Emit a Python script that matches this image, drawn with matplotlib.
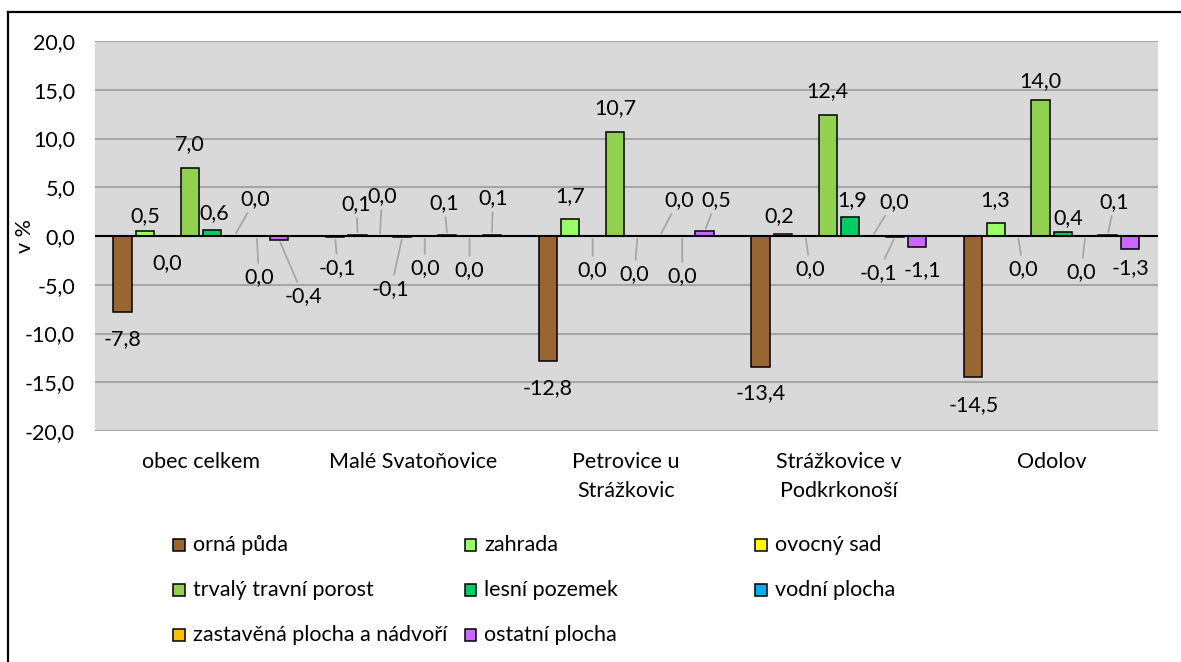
import numpy as np
import matplotlib
matplotlib.use('Agg')
import matplotlib.pyplot as plt
from matplotlib.ticker import FuncFormatter
from matplotlib.patches import Rectangle
from matplotlib.lines import Line2D

plt.rcParams['font.family'] = ['Lato', 'DejaVu Sans']

categories = ['obec celkem', 'Malé Svatoňovice', 'Petrovice u\nStrážkovic',
              'Strážkovice v\nPodkrkonoší', 'Odolov']
series = ['orná půda', 'zahrada', 'ovocný sad', 'trvalý travní porost',
          'lesní pozemek', 'vodní plocha', 'zastavěná plocha a nádvoří', 'ostatní plocha']

orna = [-7.8, -0.1, -12.8, -13.4, -14.5]
zahrada = [0.5, 0.1, 1.7, 0.2, 1.3]
ovocny = [0.0, 0.0, 0.0, 0.0, 0.0]
trvaly = [7.0, -0.1, 10.7, 12.4, 14.0]
lesni = [0.6, 0.0, 0.0, 1.9, 0.4]
vodni = [0.0, 0.1, 0.0, 0.0, 0.0]
zastavena = [0.0, 0.0, 0.0, -0.1, 0.1]
ostatni = [-0.4, 0.1, 0.5, -1.1, -1.3]
values = [orna, zahrada, ovocny, trvaly, lesni, vodni, zastavena, ostatni]

colors = ['#996633', '#99FF66', '#FFFF00', '#92D050',
          '#00CC66', '#00B0F0', '#FFC000', '#CC66FF']

# label offsets (px, up positive) from bar end, and leader line flags
lab_off = [
    [(0, -27), (2.5, -31), (0, -27), (0, -26), (0, -27.6)],
    [(0, 15), (-1, 31), (0, 23), (-3.6, 18), (0, 23)],
    [(0, -27), (2, 40), (0, -34), (5, -33), (5, -33)],
    [(0, 24), (-11.5, -52), (0, 23.4), (0, 24), (0, 18)],
    [(2, 17), (0, -32), (-3, -38), (2.4, 17.5), (5, 14.4)],
    [(21, 37), (-3, 32), (19, 36), (21.4, 34.3), (-4, -36)],
    [(2, -41), (0, -34), (0, -40), (-17, -36), (7, 33)],
    [(24, -56), (1, 37), (12, 31), (5, -23.6), (0, -19)],
]
leader = [
    [0, 1, 0, 0, 0],
    [0, 1, 0, 0, 0],
    [0, 1, 1, 1, 1],
    [0, 1, 0, 0, 0],
    [0, 1, 1, 0, 0],
    [1, 1, 1, 1, 1],
    [1, 1, 1, 1, 1],
    [1, 1, 1, 0, 0],
]

W, H = 1181, 662
fig = plt.figure(figsize=(W / 100, H / 100), dpi=100)
ax = fig.add_axes([94.5 / W, 1 - 431 / H, (1158 - 94.5) / W, 390 / H])
ax.set_facecolor('#D9D9D9')

x = np.arange(len(categories))
step = 0.1053
bw = 0.086
fs = 15.5
for i, (vals, c) in enumerate(zip(values, colors)):
    xs = x + (i - 3.5) * step
    ax.bar(xs, vals, width=bw, color=c, edgecolor='black', linewidth=1.1, zorder=3)
    for j, v in enumerate(vals):
        dx, dy = lab_off[i][j]
        txt = f'{v:.1f}'.replace('.', ',')
        kw = {}
        if leader[i][j]:
            kw['arrowprops'] = dict(arrowstyle='-', color='#A6A6A6', lw=1.3,
                                    shrinkA=1, shrinkB=2)
        ax.annotate(txt, xy=(xs[j], v), xytext=(dx * 0.72, dy * 0.72),
                    textcoords='offset points', ha='center', va='center',
                    fontsize=fs, zorder=4, **kw)

ax.set_xlim(-0.5, len(categories) - 0.5)
ax.set_ylim(-20, 20)
ax.set_yticks(np.arange(-20, 21, 5))
ax.yaxis.set_major_formatter(FuncFormatter(lambda v, p: f'{v:.1f}'.replace('.', ',')))
ax.grid(axis='y', color='#A6A6A6', linewidth=1.5, zorder=0)
ax.set_axisbelow(True)
ax.axhline(0, color='black', linewidth=1.5, zorder=3.5)
for s in ax.spines.values():
    s.set_visible(False)
ax.set_xticks(x)
ax.set_xticklabels(categories, fontsize=fs, linespacing=1.6)
ax.tick_params(axis='both', length=0, labelsize=fs)
ax.tick_params(axis='y', pad=14)
ax.tick_params(axis='x', pad=15)
ax.set_ylabel('v %', fontsize=fs)
ax.yaxis.set_label_coords((35 - 94.5) / (1158 - 94.5), 0.5)

# legend in three columns
col_x = [173, 464.5, 755]
row_y = [545, 590, 635]
order = [(0, 0), (0, 1), (0, 2), (1, 0), (1, 1), (1, 2), (2, 0), (2, 1)]
for k, (r, cc) in enumerate(order):
    px, py = col_x[cc], row_y[r]
    fig.patches.append(Rectangle((px / W, 1 - (py + 6) / H), 12 / W, 12 / H,
                                 transform=fig.transFigure, facecolor=colors[k],
                                 edgecolor='black', linewidth=1.1))
    fig.text((px + 20) / W, 1 - py / H, series[k], fontsize=fs, va='center', ha='left')

# outer frame (left and top edges visible)
fig.add_artist(Line2D([8.4 / W, 8.4 / W], [0, 1 - 12.3 / H], color='black', lw=1.6))
fig.add_artist(Line2D([8.4 / W, 1], [1 - 12.3 / H, 1 - 12.3 / H], color='black', lw=1.6))

fig.savefig('out.png', dpi=100)
